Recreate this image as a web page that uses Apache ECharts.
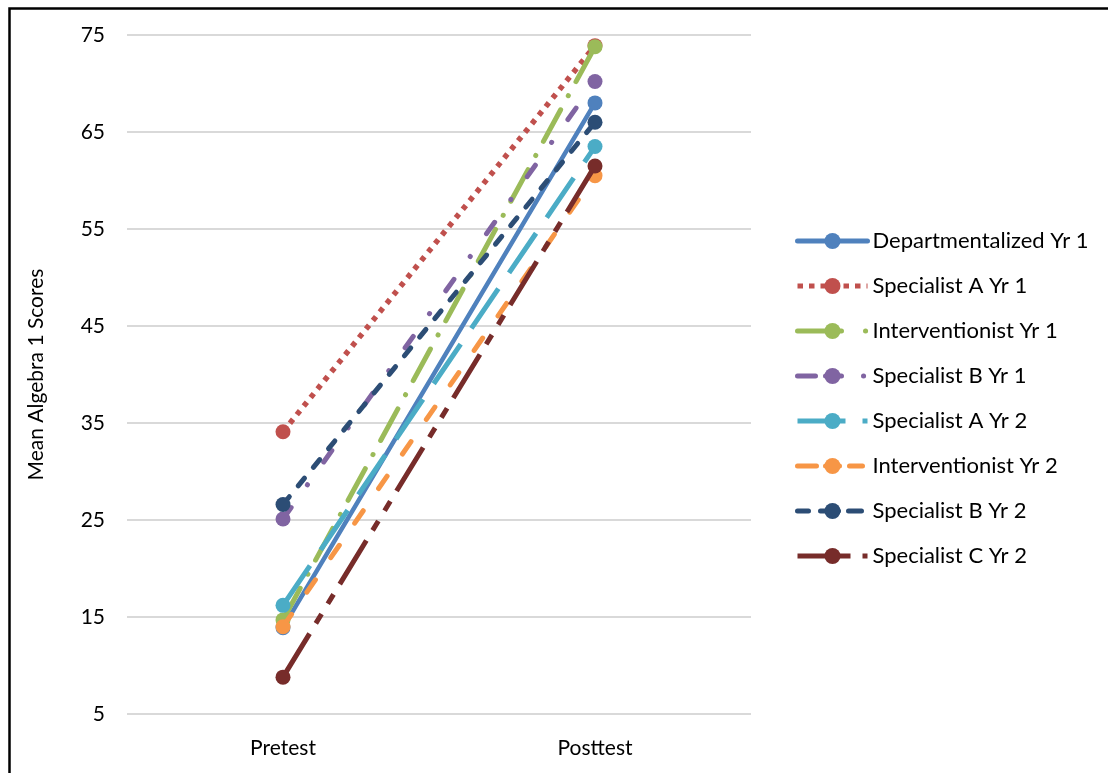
<!DOCTYPE html>
<html>
<head>
<meta charset="utf-8">
<script src="https://cdn.jsdelivr.net/npm/echarts@6/dist/echarts.min.js"></script>
<style>
html,body{margin:0;padding:0;background:#fff;}
#chart{width:1108px;height:773px;}
</style>
</head>
<body>
<div id="chart"></div>
<script>
const categories = ['Pretest', 'Posttest'];
const seriesNames = ['Departmentalized Yr 1', 'Specialist A Yr 1', 'Interventionist Yr 1', 'Specialist B Yr 1', 'Specialist A Yr 2', 'Interventionist Yr 2', 'Specialist B Yr 2', 'Specialist C Yr 2'];
const departmentalizedYr1 = [13.9, 68.0];
const specialistAYr1 = [34.1, 73.9];
const interventionistYr1 = [14.7, 73.8];
const specialistBYr1 = [25.1, 70.2];
const specialistAYr2 = [16.2, 63.5];
const interventionistYr2 = [14.0, 60.5];
const specialistBYr2 = [26.6, 66.0];
const specialistCYr2 = [8.8, 61.5];
const yTicks = [5, 15, 25, 35, 45, 55, 65, 75];

const values = [departmentalizedYr1, specialistAYr1, interventionistYr1, specialistBYr1, specialistAYr2, interventionistYr2, specialistBYr2, specialistCYr2];
const colors = ['#4F81BD', '#C0504D', '#9BBB59', '#8064A2', '#4BACC6', '#F79646', '#2C4D75', '#772C2A'];
const styles = [
  {type: 'solid', cap: 'round', width: 4.5},
  {type: [5, 6], cap: 'butt', width: 5.5},
  {type: [36, 16, 0.1, 16], cap: 'round', width: 5},
  {type: [14, 28, 0.1, 28], cap: 'round', width: 5},
  {type: [48, 19], cap: 'butt', width: 5},
  {type: [15, 27], cap: 'round', width: 5},
  {type: [10, 14], cap: 'round', width: 5},
  {type: [51, 12, 11, 12, 11, 12], cap: 'butt', width: 5}
];
const legendStyles = [
  {type: 'solid', cap: 'round'},
  {type: [5.5, 6], cap: 'butt'},
  {type: [44, 24, 0.1, 20], cap: 'round'},
  {type: [18, 10, 16, 22, 0.1, 20], cap: 'round'},
  {type: [48, 17, 5, 10], cap: 'butt'},
  {type: [19, 9, 14, 10, 13, 20], cap: 'round'},
  {type: [11, 12, 18, 10, 13, 20], cap: 'round'},
  {type: [53, 12, 6, 10], cap: 'butt'}
];

const FONT = 'Lato';
const chart = echarts.init(document.getElementById('chart'), null, {renderer: 'canvas'});
chart.setOption({
  backgroundColor: '#ffffff',
  animation: false,
  textStyle: {fontFamily: FONT},
  graphic: [{
    type: 'rect', left: 7, top: 6, silent: true, z: 100,
    shape: {width: 1200, height: 900},
    style: {fill: 'none', stroke: '#000', lineWidth: 2.5}
  }],
  grid: {left: 127, right: 357, top: 35, bottom: 59, containLabel: false},
  legend: {
    orient: 'vertical', left: 790, top: 224,
    itemWidth: 70, itemHeight: 20, itemGap: 21,
    textStyle: {fontFamily: FONT, fontSize: 22, lineHeight: 24, color: '#000'},
    data: seriesNames.map((n, i) => ({
      name: n,
      lineStyle: {width: 5, color: colors[i], type: legendStyles[i].type, cap: legendStyles[i].cap}
    }))
  },
  xAxis: {
    type: 'category', data: categories, boundaryGap: true,
    axisLine: {show: false}, axisTick: {show: false},
    axisLabel: {fontFamily: FONT, fontSize: 21, color: '#000', margin: 24}
  },
  yAxis: {
    type: 'value', min: yTicks[0], max: yTicks[yTicks.length - 1], interval: 10,
    name: 'Mean Algebra 1 Scores', nameLocation: 'middle', nameGap: 80,
    nameTextStyle: {fontFamily: FONT, fontSize: 21, color: '#000'},
    axisLine: {show: false}, axisTick: {show: false},
    axisLabel: {fontFamily: FONT, fontSize: 21, color: '#000', margin: 22},
    splitLine: {lineStyle: {color: '#D9D9D9', width: 2}}
  },
  series: values.map((v, i) => ({
    name: seriesNames[i], type: 'line', data: v,
    symbol: 'circle', symbolSize: 15,
    itemStyle: {color: colors[i]},
    lineStyle: {color: colors[i], width: styles[i].width, type: styles[i].type, cap: styles[i].cap},
    emphasis: {disabled: true},
    z: 2 + i
  }))
});
</script>
</body>
</html>
